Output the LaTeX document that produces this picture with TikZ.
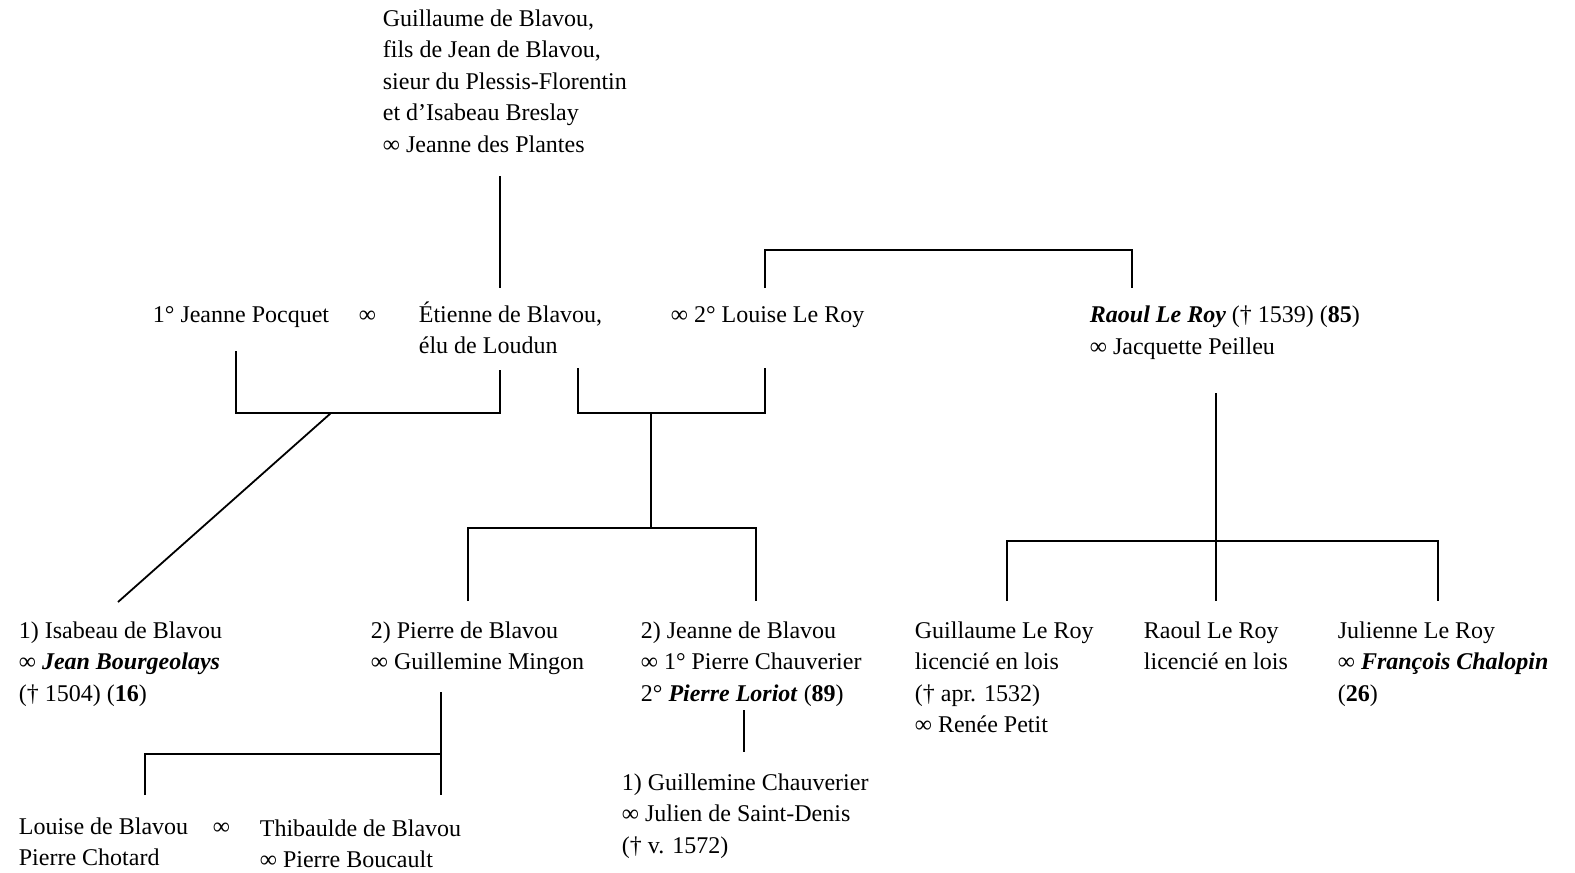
\documentclass[tikz,border=0pt]{standalone}
\usepackage{fontspec}
\setmainfont{Liberation Serif}
\usepackage{tikz}

\begin{document}
\begin{tikzpicture}[x=0.5pt,y=-0.5pt,
    person/.style={anchor=base west,align=left,inner sep=0pt},
    font=\fontsize{12pt}{15.75pt}\selectfont,
    line width=0.9pt]
        \useasboundingbox (0,0) rectangle (1575,873);
        % first generations (nodes placed by the baseline of their last line)
        \node[person] (guillaume) at (382,152) {Guillaume de Blavou,\\fils de Jean de Blavou,\\sieur du Plessis-Florentin\\et d’Isabeau Breslay\\∞ Jeanne des Plantes};
        \node[person] (pocquet) at (152,322) {1° Jeanne Pocquet};
        \node[person] (mar1) at (358,322) {∞};
        \node[person] (etienne) at (418,353.5) {Étienne de Blavou,\\élu de Loudun};
        \node[person] (louise) at (670,322) {∞ 2° Louise Le Roy};
        \node[person] (raoul) at (1089,354) {\textbf{\textit{Raoul Le Roy}} († 1539) (\textbf{85})\\∞ Jacquette Peilleu};
        % children
        \node[person] (isabeau) at (18,701) {1) Isabeau de Blavou\\∞ \textbf{\textit{Jean Bourgeolays}}\\(† 1504) (\textbf{16})};
        \node[person] (pierre) at (370,669.5) {2) Pierre de Blavou\\∞ Guillemine Mingon};
        \node[person] (jeanne) at (640,701) {2) Jeanne de Blavou\\∞ 1° Pierre Chauverier\\2° \textbf{\textit{Pierre Loriot}} (\textbf{89})};
        \node[person] (guillaumelr) at (914,732.5) {Guillaume Le Roy\\licencié en lois\\(† apr. 1532)\\∞ Renée Petit};
        \node[person] (raoullr) at (1143,669.5) {Raoul Le Roy\\licencié en lois};
        \node[person] (julienne) at (1337,701) {Julienne Le Roy\\∞ \textbf{\textit{François Chalopin}}\\(\textbf{26})};
        % grandchildren
        \node[person] (guillemine) at (621,853) {1) Guillemine Chauverier\\∞ Julien de Saint-Denis\\(† v. 1572)};
        \node[person] (louiseb) at (18,865.5) {Louise de Blavou\\Pierre Chotard};
        \node[person] (mar2) at (212,834) {∞};
        \node[person] (thibaulde) at (259,867.5) {Thibaulde de Blavou\\∞ Pierre Boucault};
        % connectors
        \coordinate (g1) at (500,176);
        \coordinate (g2) at (500,288);
        \coordinate (lr1) at (765,288);
        \coordinate (lr2) at (1132,288);
        \coordinate (lrbar) at (948,250);
        \coordinate (p1) at (236,351);
        \coordinate (e1) at (500,370);
        \coordinate (pebar) at (331,413);
        \coordinate (i1) at (118,602);
        \coordinate (e2) at (578,368);
        \coordinate (l1) at (765,368);
        \coordinate (elbar) at (651,413);
        \coordinate (sib) at (651,528);
        \coordinate (p2) at (468,601);
        \coordinate (j2) at (756,601);
        \coordinate (pc1) at (441,692);
        \coordinate (pc2) at (441,795);
        \coordinate (pcbar) at (441,754);
        \coordinate (lb1) at (145,795);
        \coordinate (jc1) at (744,710);
        \coordinate (jc2) at (744,752);
        \coordinate (r1) at (1216,393);
        \coordinate (r2) at (1216,601);
        \coordinate (rbar) at (1216,541);
        \coordinate (gl1) at (1007,601);
        \coordinate (jl1) at (1438,601);
        \draw (g1) -- (g2);
        \draw (lr1) |- (lrbar) -| (lr2);
        \draw (p1) |- (pebar) -| (e1);
        \draw (pebar) -- (i1);
        \draw (e2) |- (elbar) -| (l1);
        \draw (elbar) -- (sib);
        \draw (p2) |- (sib) -| (j2);
        \draw (pc1) -- (pc2);
        \draw (lb1) |- (pcbar);
        \draw (jc1) -- (jc2);
        \draw (r1) -- (r2);
        \draw (gl1) |- (rbar) -| (jl1);
      \end{tikzpicture}
\end{document}
